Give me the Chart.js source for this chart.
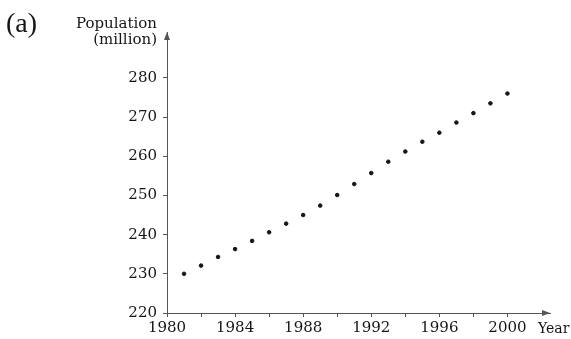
<!DOCTYPE html>
<html>
<head>
<meta charset="utf-8">
<script src="https://cdn.jsdelivr.net/npm/chart.js@4/dist/chart.umd.min.js"></script>
<style>
  html, body { margin: 0; padding: 0; background: #fff; }
  #wrap { width: 571px; height: 339px; }
</style>
</head>
<body>
<div id="wrap"><canvas id="c" width="571" height="339"></canvas></div>
<script>
// Population (millions) by year
const years = [1981, 1982, 1983, 1984, 1985, 1986, 1987, 1988, 1989, 1990,
               1991, 1992, 1993, 1994, 1995, 1996, 1997, 1998, 1999, 2000];
const population = [230.0, 232.1, 234.3, 236.3, 238.4, 240.6, 242.8, 245.0, 247.4, 250.1,
                    252.9, 255.7, 258.6, 261.2, 263.7, 266.0, 268.6, 271.0, 273.5, 276.0];

// Axis tick positions
const xTickYears = [1980, 1982, 1984, 1986, 1988, 1990, 1992, 1994, 1996, 1998, 2000];
const xLabelYears = [1980, 1984, 1988, 1992, 1996, 2000];
const yTickValues = [220, 230, 240, 250, 260, 270, 280];

const panelLabel = '(a)';
const yTitleLines = ['Population', '(million)'];
const xTitle = 'Year';

const ink = '#151515';
const axisColor = '#555';
const serif = "'DejaVu Serif', serif";

// Arrowheads on both axes plus the free-standing labels
const decorations = {
  id: 'decorations',
  afterDraw(chart) {
    const { ctx, chartArea: a } = chart;
    ctx.save();
    ctx.fillStyle = axisColor;
    // arrow at top of y axis
    ctx.beginPath();
    ctx.moveTo(a.left, a.top);
    ctx.lineTo(a.left - 3, a.top + 8);
    ctx.lineTo(a.left + 3, a.top + 8);
    ctx.closePath();
    ctx.fill();
    // arrow at right end of x axis
    ctx.beginPath();
    ctx.moveTo(a.right, a.bottom);
    ctx.lineTo(a.right - 8, a.bottom - 3);
    ctx.lineTo(a.right - 8, a.bottom + 3);
    ctx.closePath();
    ctx.fill();

    ctx.fillStyle = ink;
    ctx.textBaseline = 'middle';
    ctx.textAlign = 'left';
    ctx.font = "28px 'Liberation Serif', serif";
    ctx.fillText(panelLabel, 6, 25);

    ctx.textAlign = 'right';
    ctx.font = '15px ' + serif;
    ctx.fillText(yTitleLines[0], a.left - 10, 24);
    ctx.fillText(yTitleLines[1], a.left - 10, 40);

    ctx.textAlign = 'left';
    ctx.font = '14px ' + serif;
    ctx.fillText(xTitle, a.right - 12, a.bottom + 16);
    ctx.restore();
  }
};

new Chart(document.getElementById('c'), {
  type: 'scatter',
  data: {
    datasets: [{
      data: years.map((y, i) => ({ x: y, y: population[i] })),
      backgroundColor: ink,
      borderColor: ink,
      pointRadius: 1.8,
      pointHoverRadius: 1.8
    }]
  },
  options: {
    responsive: false,
    animation: false,
    layout: { padding: { top: 32, right: 21, left: 0, bottom: 0 } },
    plugins: { legend: { display: false }, tooltip: { enabled: false } },
    scales: {
      x: {
        type: 'linear',
        min: 1980,
        max: 2002.5,
        afterBuildTicks: s => { s.ticks = xTickYears.map(v => ({ value: v })); },
        afterFit: s => { s.height = 26; },
        ticks: {
          autoSkip: false,
          maxRotation: 0,
          padding: 2,
          color: ink,
          font: { family: serif, size: 15 },
          callback: v => xLabelYears.includes(v) ? String(v) : ''
        },
        grid: { drawOnChartArea: false, tickLength: 4, color: axisColor },
        border: { color: axisColor, width: 1 }
      },
      y: {
        min: 220,
        max: 291.7,
        afterBuildTicks: s => { s.ticks = yTickValues.map(v => ({ value: v })); },
        afterFit: s => { s.width = 167; },
        ticks: {
          padding: 6,
          color: ink,
          font: { family: serif, size: 15 }
        },
        grid: { drawOnChartArea: false, tickLength: 4, color: axisColor },
        border: { color: axisColor, width: 1 }
      }
    }
  },
  plugins: [decorations]
});
</script>
</body>
</html>
